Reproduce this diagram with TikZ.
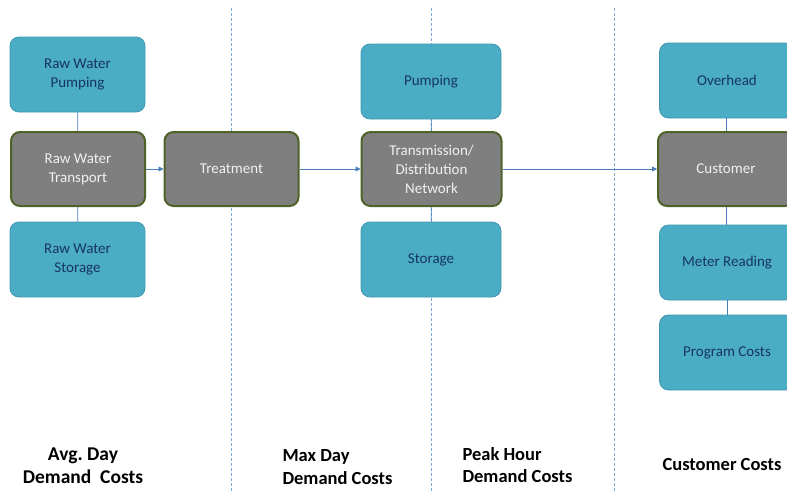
\documentclass[tikz,border=0pt]{standalone}
\usepackage{fontspec}
\setmainfont{Carlito}
\usetikzlibrary{arrows.meta}
\definecolor{boxblue}{HTML}{4BACC6}
\definecolor{boxblueedge}{HTML}{3F97AF}
\definecolor{boxgray}{HTML}{7F7F7F}
\definecolor{boxgreen}{HTML}{4F6228}
\definecolor{navytext}{HTML}{17365D}
\definecolor{linkblue}{HTML}{4A7EBB}
\definecolor{dashblue}{HTML}{7FA7D3}
\tikzset{
  bluebox/.style={draw=boxblueedge, line width=0.8pt, fill=boxblue, rounded corners=9pt,
    minimum width=135pt, minimum height=75pt, text=navytext, font=\fontsize{15}{19}\selectfont, align=center, inner sep=2pt},
  graybox/.style={draw=boxgreen, line width=2pt, fill=boxgray, rounded corners=9pt,
    minimum width=134pt, minimum height=74pt, text=white!88!gray, font=\fontsize{15}{19}\selectfont, align=center, inner sep=2pt},
  link/.style={draw=linkblue, line width=0.8pt},
  flow/.style={draw=linkblue, line width=0.8pt, -{Triangle[length=5pt,width=5pt]}},
  divider/.style={draw=dashblue, line width=0.8pt, dash pattern=on 3pt off 2pt},
  caption/.style={font=\bfseries\fontsize{18.5}{22.5}\selectfont, text=black}
}
\begin{document}
\begin{tikzpicture}[x=1pt,y=-1pt]
\useasboundingbox (0,0) rectangle (787,493);
\clip (0,0) rectangle (787,493);
% dividers
\coordinate (d1t) at (231,8); \coordinate (d1b) at (231,493);
\coordinate (d2t) at (431,8); \coordinate (d2b) at (431,493);
\coordinate (d3t) at (614,8); \coordinate (d3b) at (614,493);
\draw[divider] (d1t) -- (d1b);
\draw[divider] (d2t) -- (d2b);
\draw[divider] (d3t) -- (d3b);
% nodes
\node[bluebox] (rwp) at (77.5,74.5) {Raw Water\\Pumping};
\node[graybox] (rwt) at (78,169) {Raw Water\\Transport};
\node[bluebox] (rws) at (77.5,259.5) {Raw Water\\Storage};
\node[graybox] (trt) at (231.5,169) {Treatment};
\node[bluebox, minimum width=140pt] (pmp) at (431,81.5) {Pumping};
\node[graybox, minimum width=140pt] (tdn) at (431.5,169) {Transmission/\\Distribution\\Network};
\node[bluebox, minimum width=140pt] (sto) at (431,259.5) {Storage};
\node[bluebox] (ovh) at (727,80.5) {Overhead};
\node[graybox, minimum width=136pt] (cus) at (726,169) {Customer};
\node[bluebox] (mtr) at (727,262.5) {Meter Reading};
\node[bluebox] (prg) at (727,352.5) {Program Costs};
% links
\draw[link] (rwp) -- (rwt);
\draw[link] (rwt) -- (rws);
\draw[link] (pmp) -- (tdn);
\draw[link] (tdn) -- (sto);
\draw[link] (ovh.south -| cus.north) -- (cus.north);
\draw[link] (cus.south) -- (mtr.north -| cus.south);
\draw[link] (mtr) -- (prg);
\draw[flow] (rwt) -- (trt);
\draw[flow] (trt) -- (tdn);
\draw[flow] (tdn) -- (cus);
% captions
\node[caption, align=center, font=\bfseries\fontsize{19.5}{23}\selectfont] (c1) at (83,466) {Avg.\ Day\\Demand\ \ Costs};
\node[caption, align=left, anchor=west] (c2) at (279,467) {Max Day\\Demand Costs};
\node[caption, align=left, anchor=west] (c3) at (459,465) {Peak Hour\\Demand Costs};
\node[caption] (c4) at (722,464) {Customer Costs};
\end{tikzpicture}
\end{document}
